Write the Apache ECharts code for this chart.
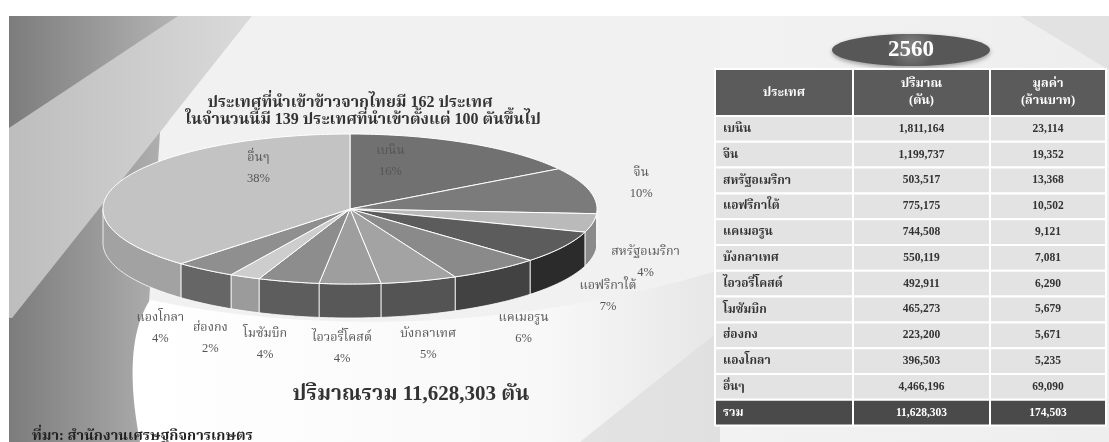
<!DOCTYPE html>
<html>
<head>
<meta charset="utf-8">
<script src="https://cdn.jsdelivr.net/npm/echarts@6/dist/echarts.min.js"></script>
<style>
  html, body { margin: 0; padding: 0; background: #fff; }
  #chart { width: 1109px; height: 442px; }
</style>
</head>
<body>
<div id="chart"></div>
<script>
// ---- data ----
const year = '2560';
const countries = ['เบนิน', 'จีน', 'สหรัฐอเมริกา', 'แอฟริกาใต้', 'แคเมอรูน', 'บังกลาเทศ',
  'ไอวอรี่โคสต์', 'โมซัมบิก', 'ฮ่องกง', 'แองโกลา', 'อื่นๆ'];
// share of import volume shown on the pie (%)
const sharePct = [16, 10, 4, 7, 6, 5, 4, 4, 2, 4, 38];
// import volume (tonnes) and value (million baht)
const quantityTon = [1811164, 1199737, 503517, 775175, 744508, 550119, 492911, 465273, 223200, 396503, 4466196];
const valueMBaht = [23114, 19352, 13368, 10502, 9121, 7081, 6290, 5679, 5671, 5235, 69090];
const totalLabel = 'รวม';
const totalQuantity = 11628303;
const totalValue = 174503;
const headerLabels = ['ประเทศ', 'ปริมาณ\n(ตัน)', 'มูลค่า\n(ล้านบาท)'];
const titleLines = ['ประเทศที่นำเข้าข้าวจากไทยมี 162 ประเทศ', 'ในจำนวนนี้มี 139 ประเทศที่นำเข้าตั้งแต่ 100 ตันขึ้นไป'];
const totalCaption = 'ปริมาณรวม';
const totalUnit = 'ตัน';
const sourceNote = 'ที่มา: สำนักงานเศรษฐกิจการเกษตร';

// ---- styling ----
const FONT = "'Liberation Serif', 'Noto Serif Thai', 'Noto Sans Thai', serif";
const topColors = ['#717171', '#7b7b7b', '#bababa', '#5c5c5c', '#8a8a8a', '#a3a3a3',
  '#9e9e9e', '#8d8d8d', '#cdcdcd', '#8f8f8f', '#c3c3c3'];
const sideColors = ['#4e4e4e', '#555555', '#8a8a8a', '#2b2b2b', '#424242', '#545454',
  '#585858', '#5d5d5d', '#9b9b9b', '#666666', '#a2a2a2'];

// 3D pie layout: centre, radii of the top ellipse and the extrusion depth
const PIE = { cx: 350, cy: 209, rx: 247, ry: 75, depth: 34 };
const LABEL = { padX: 62, padY: 30, shiftX: -8, innerR: 0.66, seamPull: 0.5 };
const TWO_PI = Math.PI * 2;
const shareSum = sharePct.reduce((a, b) => a + b, 0);
const shareStart = [];
sharePct.reduce((acc, v) => { shareStart.push(acc); return acc + v; }, 0);

const fmt = n => n.toLocaleString('en-US');

// point on the pie rim; angle measured clockwise from 12 o'clock
function rim(theta, k, dy) {
  return [PIE.cx + PIE.rx * k * Math.sin(theta), PIE.cy - PIE.ry * k * Math.cos(theta) + (dy || 0)];
}
function arc(a0, a1, dy) {
  const n = Math.max(2, Math.ceil((a1 - a0) / 0.02));
  const pts = [];
  for (let k = 0; k <= n; k++) pts.push(rim(a0 + (a1 - a0) * k / n, 1, dy));
  return pts;
}
function sliceAngles(i, v) {
  const a0 = shareStart[i] / shareSum * TWO_PI;
  return [a0, a0 + v / shareSum * TWO_PI];
}
// sampled cubic bezier, used for the curved backdrop sheet
function bezier(p0, p1, p2, p3, n) {
  const out = [];
  for (let k = 0; k <= n; k++) {
    const t = k / n, u = 1 - t;
    out.push([
      u * u * u * p0[0] + 3 * u * u * t * p1[0] + 3 * u * t * t * p2[0] + t * t * t * p3[0],
      u * u * u * p0[1] + 3 * u * u * t * p1[1] + 3 * u * t * t * p2[1] + t * t * t * p3[1]
    ]);
  }
  return out;
}

const pieData = sharePct.map((v, i) => [i, v]);

// ---- background decoration ----
const sheetEdge = bezier([140, 442], [128, 380], [130, 330], [150, 300], 24)
  .concat(bezier([150, 300], [320, 335], [520, 330], [720, 270], 30).slice(1));
const bg = [
  { type: 'rect', shape: { x: 0, y: 0, width: 1109, height: 442 }, style: { fill: '#ffffff' }, z: -30 },
  { type: 'rect', shape: { x: 9, y: 16, width: 1100, height: 426 }, z: -29,
    style: { fill: new echarts.graphic.LinearGradient(0, 0, 1, 0, [
      { offset: 0, color: '#e8e8e8' }, { offset: 0.5, color: '#f4f4f4' }, { offset: 1, color: '#eeeeee' }]) } },
  // left grey column
  { type: 'polygon', shape: { points: [[9, 16], [178, 16], [140, 442], [9, 442]] }, z: -28,
    style: { fill: new echarts.graphic.LinearGradient(0, 0, 1, 0, [
      { offset: 0, color: '#7c7c7c' }, { offset: 1, color: '#b4b4b4' }]) } },
  // pale diagonal band
  { type: 'polygon', shape: { points: [[178, 16], [252, 16], [160, 132], [12, 318], [9, 318], [9, 128]] }, z: -27,
    style: { fill: new echarts.graphic.LinearGradient(0, 0, 1, 0, [
      { offset: 0, color: '#bdbdbd' }, { offset: 1, color: '#dadada' }]) } },
  // light sheet behind the pie
  { type: 'polygon', shape: { points: [[252, 16], [720, 16], [720, 442], [140, 442], [160, 132]] }, z: -26,
    style: { fill: '#f1f1f1' } },
  // white curved sheet under the pie
  { type: 'polygon', z: -25,
    shape: { points: sheetEdge.concat([[720, 442]]) },
    style: { fill: new echarts.graphic.LinearGradient(0, 0, 1, 0, [
      { offset: 0, color: '#ffffff' }, { offset: 0.7, color: '#f8f8f8' }, { offset: 1, color: '#e6e6e6' }]) } },
  { type: 'polygon', shape: { points: [[580, 442], [720, 330], [720, 442]] }, z: -24,
    style: { fill: '#dedede', opacity: 0.8 } },
  { type: 'polygon', shape: { points: [[1020, 16], [1109, 16], [1109, 70]] }, z: -24,
    style: { fill: '#e2e2e2' } }
];

// ---- titles and captions ----
const texts = [
  { type: 'text', x: 350, y: 103, z: 5,
    style: { text: titleLines[0], font: `bold 16px ${FONT}`, fill: '#333', align: 'center', verticalAlign: 'middle' } },
  { type: 'text', x: 363, y: 120, z: 5,
    style: { text: titleLines[1], font: `bold 16px ${FONT}`, fill: '#333', align: 'center', verticalAlign: 'middle' } },
  { type: 'text', x: 411, y: 395, z: 5,
    style: { text: `${totalCaption} ${fmt(totalQuantity)} ${totalUnit}`, font: `bold 21px ${FONT}`,
      fill: '#333', align: 'center', verticalAlign: 'middle' } },
  { type: 'text', x: 32, y: 436, z: 5,
    style: { text: sourceNote, font: `bold 14.5px ${FONT}`, fill: '#222', align: 'left', verticalAlign: 'middle' } }
];

// ---- year badge ----
const badge = [
  { type: 'ellipse', shape: { cx: 911, cy: 50, rx: 79, ry: 16 }, z: 4,
    style: { fill: new echarts.graphic.RadialGradient(0.5, 0.4, 0.75, [
      { offset: 0, color: '#858585' }, { offset: 1, color: '#575757' }]),
      shadowBlur: 4, shadowColor: 'rgba(0,0,0,0.35)', shadowOffsetY: 2 } },
  { type: 'text', x: 911, y: 50, z: 5,
    style: { text: year, font: `bold 23px ${FONT}`, fill: '#fff', align: 'center', verticalAlign: 'middle' } }
];

// ---- table ----
const TBL = { x: 715, y: 69, colW: [138, 137, 116], headH: 47, rowH: 25.8 };
const table = [];
const colX = [TBL.x, TBL.x + TBL.colW[0], TBL.x + TBL.colW[0] + TBL.colW[1]];
function cell(c, y, h, fill, text, color, left, size) {
  table.push({ type: 'rect', z: 4, shape: { x: colX[c], y: y, width: TBL.colW[c], height: h },
    style: { fill: fill, stroke: '#ffffff', lineWidth: 2 } });
  table.push({ type: 'text', z: 5, x: left ? colX[c] + 8 : colX[c] + TBL.colW[c] / 2, y: y + h / 2,
    style: { text: text, font: `bold ${size || 11.5}px ${FONT}`, fill: color, align: left ? 'left' : 'center',
      verticalAlign: 'middle', lineHeight: 17 } });
}
headerLabels.forEach((h, c) => cell(c, TBL.y, TBL.headH, '#5b5b5b', h, '#ffffff', false, 12.5));
countries.forEach((name, r) => {
  const y = TBL.y + TBL.headH + r * TBL.rowH;
  cell(0, y, TBL.rowH, '#e3e3e3', name, '#333', true, 12);
  cell(1, y, TBL.rowH, '#e3e3e3', fmt(quantityTon[r]), '#333', false);
  cell(2, y, TBL.rowH, '#e3e3e3', fmt(valueMBaht[r]), '#333', false);
});
{
  const y = TBL.y + TBL.headH + countries.length * TBL.rowH;
  cell(0, y, TBL.rowH, '#4a4a4a', totalLabel, '#ffffff', true, 12);
  cell(1, y, TBL.rowH, '#4a4a4a', fmt(totalQuantity), '#ffffff', false);
  cell(2, y, TBL.rowH, '#4a4a4a', fmt(totalValue), '#ffffff', false);
}

// ---- pie series ----
const sideSeries = {
  type: 'custom', coordinateSystem: 'none', z: 2, silent: true, data: pieData,
  renderItem(params, api) {
    const i = params.dataIndex;
    const [a0, a1] = sliceAngles(i, api.value(1));
    const s0 = Math.max(a0, Math.PI / 2), s1 = Math.min(a1, Math.PI * 1.5);
    if (s1 <= s0) return null;
    const pts = arc(s0, s1, 0).concat(arc(s0, s1, PIE.depth).reverse());
    return { type: 'polygon', shape: { points: pts },
      style: { fill: sideColors[i], stroke: '#ffffff', lineWidth: 0.8 } };
  }
};

const topSeries = {
  type: 'custom', coordinateSystem: 'none', z: 3, silent: true, data: pieData,
  renderItem(params, api) {
    const i = params.dataIndex;
    const [a0, a1] = sliceAngles(i, api.value(1));
    const pts = [[PIE.cx, PIE.cy]].concat(arc(a0, a1, 0));
    return { type: 'polygon', shape: { points: pts },
      style: { fill: topColors[i], stroke: '#ffffff', lineWidth: 1 } };
  }
};

const labelSeries = {
  type: 'custom', coordinateSystem: 'none', z: 6, silent: true, data: pieData,
  renderItem(params, api) {
    const i = params.dataIndex;
    const v = api.value(1);
    const [a0, a1] = sliceAngles(i, v);
    const mid = (a0 + a1) / 2;
    let x, y;
    if (v / shareSum >= 0.15) {
      // large slices carry their label on the top face, pulled toward the 12 o'clock seam
      const seam = a0 === 0 ? 0 : (Math.abs(a1 - TWO_PI) < 1e-9 ? TWO_PI : mid);
      [x, y] = rim(mid + (seam - mid) * LABEL.seamPull, LABEL.innerR, 0);
    } else {
      x = PIE.cx + LABEL.shiftX + (PIE.rx + LABEL.padX) * Math.sin(mid);
      y = PIE.cy - (PIE.ry + LABEL.padY) * Math.cos(mid) + (Math.cos(mid) < 0 ? PIE.depth : 0);
    }
    return { type: 'text', x: x, y: y,
      style: { text: `${countries[i]}\n${v}%`, font: `12.5px ${FONT}`, fill: '#555',
        align: 'center', verticalAlign: 'middle', lineHeight: 21 } };
  }
};

const chart = echarts.init(document.getElementById('chart'), null, { renderer: 'canvas' });
chart.setOption({
  animation: false,
  graphic: bg.concat(texts, badge, table),
  series: [sideSeries, topSeries, labelSeries]
});
</script>
</body>
</html>
